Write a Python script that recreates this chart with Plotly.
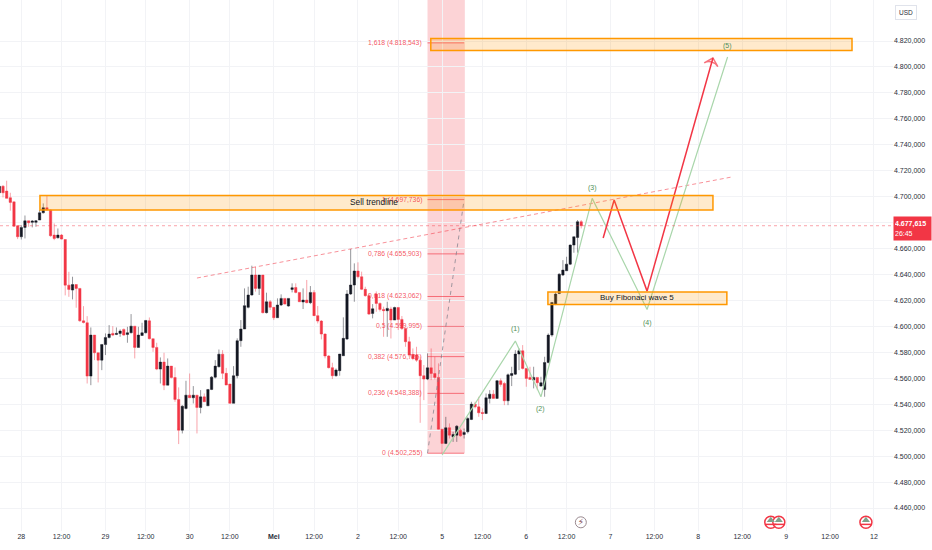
import plotly.graph_objects as go

FONT = "Liberation Sans, sans-serif"
RED = "#f23645"
ORANGE = "#ff9800"
GREEN_LINE = "#a9d6ab"
GREEN_TEXT = "#4f8f58"
PINK_TEXT = "rgba(242,54,69,0.85)"

# hourly bars, 0 = first bar of the 28th
bars = list(range(-6, 154))
opens = [4703, 4708, 4704.3, 4699.2, 4696, 4677.6, 4669.1, 4676.3, 4681.4, 4680.2, 4680.2, 4682, 4687.6, 4691.5, 4689.7, 4670.4, 4668.3, 4670.4,
         4667, 4631.8, 4628, 4632.3, 4629.3, 4604.3, 4602.8, 4561.7, 4593.3, 4579.7, 4574, 4586, 4591.5, 4594.6, 4593.8, 4594.6, 4597.7, 4593.8,
         4595.1, 4600.2, 4583.8, 4593, 4595.1, 4604.3, 4590.5, 4583.8, 4567.1, 4572.5, 4554.7, 4569.4, 4560.6, 4543.7, 4520, 4536.8, 4547, 4545,
         4547, 4537.5, 4545.7, 4538.8, 4551.4, 4560.9, 4568.9, 4578.6, 4563.8, 4555.6, 4540.7, 4562, 4589, 4598, 4614.7, 4624.2, 4639.6, 4629.3,
         4639.6, 4610.6, 4619, 4614.7, 4606.7, 4616.5, 4621.6, 4615.7, 4628.5, 4630, 4626.2, 4618.8, 4620.3, 4618.3, 4626.2, 4608.3, 4604.1, 4594.1,
         4577.2, 4568.2, 4562, 4565.9, 4577.4, 4590.3, 4625, 4631.9, 4642.7, 4638.3, 4628.6, 4623.7, 4610, 4624.9, 4617.7, 4613.1, 4612.1, 4613.4,
         4604.9, 4614.6, 4605.4, 4598.4, 4588.2, 4578.4, 4577.9, 4574, 4562, 4559.4, 4568.1, 4563.7, 4560.7, 4520.8, 4509.8, 4521.9, 4514.9, 4516.2,
         4520, 4516.7, 4518.8, 4528.3, 4540.1, 4538, 4533.7, 4532.9, 4544.5, 4547.8, 4544.5, 4558.1, 4556, 4542.7, 4562.2, 4563.2, 4578.7, 4581.2,
         4567.6, 4560.7, 4558.6, 4560.7, 4554, 4551.4, 4572.2, 4593.3, 4617.2, 4625.4, 4639.6, 4642.9, 4648, 4662.7, 4668.6, 4680.7]
highs = [4709, 4709, 4712.3, 4703, 4696, 4678, 4678, 4685.5, 4681.4, 4682, 4682, 4689.7, 4694.8, 4701.2, 4690.2, 4679.4, 4675.5, 4671.2,
         4667, 4642.1, 4638.3, 4632.3, 4629.3, 4615.6, 4607.9, 4599.2, 4593.3, 4579.7, 4586.1, 4594.6, 4601, 4600.2, 4599.2, 4597.7, 4598.4, 4599.7,
         4609.5, 4600.2, 4599.7, 4602.8, 4604.9, 4606.9, 4590.5, 4587.4, 4576.1, 4579.7, 4575.3, 4569.4, 4568.4, 4553, 4539.3, 4558.1, 4563.7, 4554,
         4547, 4550.9, 4548.3, 4551.4, 4561.7, 4574, 4582.2, 4581.7, 4568, 4555.6, 4569.4, 4590.8, 4604.9, 4629.3, 4630.6, 4646.8, 4646, 4639.6,
         4639.6, 4626, 4620.3, 4614.7, 4621.6, 4624.7, 4621.6, 4621.6, 4633.2, 4633.2, 4626.2, 4629.3, 4635.8, 4631.1, 4628, 4615.7, 4604.9, 4594.6,
         4577.9, 4572, 4567.6, 4578.7, 4607, 4628, 4659.6, 4648.6, 4649.4, 4642.2, 4630.6, 4625.5, 4617.2, 4627, 4618.5, 4615.2, 4619, 4615.2,
         4615.2, 4614.6, 4608, 4598.4, 4592, 4583, 4584.3, 4576.6, 4570.2, 4579.2, 4583, 4576.6, 4571.5, 4520.8, 4530.3, 4525.2, 4518.8, 4523.9,
         4521.3, 4521.3, 4530.3, 4541.9, 4541.9, 4545.8, 4536.8, 4548.3, 4550.9, 4550.9, 4558.6, 4559.9, 4557.3, 4563.7, 4568.9, 4581.7, 4583, 4585.6,
         4567.6, 4568.9, 4568.9, 4560.7, 4561.2, 4576.6, 4594.6, 4618.5, 4626.7, 4640.9, 4651.1, 4653.7, 4663.2, 4669.1, 4682, 4682]
lows = [4702.5, 4699.4, 4698.6, 4689.2, 4676.8, 4667.3, 4667, 4667.8, 4676.8, 4676.3, 4676.8, 4682, 4687, 4689.7, 4669.1, 4666.5, 4667.8, 4667,
        4623.9, 4622.8, 4620.8, 4614.4, 4603.6, 4602.3, 4556, 4554.7, 4574, 4556.8, 4566.3, 4577.9, 4590.7, 4592.5, 4593.3, 4592, 4592.8, 4587.4,
        4594.6, 4575.3, 4583.8, 4592.8, 4594.6, 4590, 4580.4, 4566.3, 4556, 4550.9, 4554.7, 4559.9, 4541.9, 4509.3, 4517.5, 4536, 4545, 4540.6,
        4517.5, 4533, 4541.9, 4538.8, 4550.9, 4559.9, 4568.4, 4559.4, 4554.8, 4540.7, 4540.7, 4560, 4584.3, 4598, 4613.9, 4623.7, 4626.8, 4624.2,
        4610, 4610, 4612.6, 4604.9, 4606.7, 4615.7, 4617, 4615.2, 4626.2, 4625.5, 4619, 4613.4, 4617.8, 4617.2, 4608, 4602.3, 4590, 4575.4,
        4567.6, 4559.4, 4561.2, 4562, 4577.2, 4589.5, 4624.2, 4619, 4637, 4628, 4622.9, 4608.8, 4606.2, 4611.3, 4611.5, 4592, 4592, 4590.7,
        4604.9, 4597.2, 4597.2, 4584.3, 4576.6, 4574, 4572.7, 4525.7, 4543.2, 4558.6, 4558.6, 4559.1, 4520.6, 4502.1, 4509.3, 4513.6, 4511, 4511,
        4514.9, 4513.6, 4517.5, 4527.8, 4536.8, 4530.3, 4527.8, 4532.4, 4540.6, 4544.5, 4544.5, 4553.5, 4539.3, 4539.3, 4554, 4562.5, 4566.3, 4566.8,
        4553.5, 4559.1, 4552.2, 4550.9, 4553.5, 4545.8, 4571.5, 4592, 4616.4, 4624.9, 4638.8, 4642.9, 4647.3, 4656.8, 4656.8, 4675.5]
closes = [4708, 4703, 4698.7, 4695.6, 4677.3, 4669.1, 4676.3, 4681.4, 4679.9, 4681.2, 4681.4, 4687.6, 4691.5, 4689.7, 4669.9, 4667.8, 4670.4, 4667.3,
          4631.8, 4628.5, 4632.3, 4629.3, 4604.3, 4603, 4561.7, 4593.3, 4579.7, 4574, 4586.1, 4591.5, 4594.1, 4593.3, 4594.6, 4596.4, 4593.3, 4595.1,
          4600.2, 4583.8, 4593.3, 4595.1, 4604.6, 4590.5, 4583.8, 4567.1, 4572.5, 4554.7, 4569.4, 4560.6, 4543.7, 4520, 4538.5, 4547, 4545, 4547,
          4537.5, 4545.7, 4541.9, 4551.4, 4560.9, 4569.4, 4578.6, 4563.8, 4554.8, 4540.7, 4562, 4589, 4598, 4616, 4624.2, 4639.6, 4629.3, 4639.6,
          4610.6, 4619, 4614.7, 4606.7, 4616.5, 4621.6, 4617.2, 4621.6, 4629.8, 4626.2, 4619, 4620.3, 4618.3, 4626.2, 4608.3, 4604.1, 4594.1, 4577.2,
          4568.2, 4562, 4566.4, 4578.7, 4590.8, 4625, 4631.9, 4642.7, 4638.3, 4628.6, 4623.7, 4609.5, 4613.6, 4617.7, 4613.1, 4612.1, 4613.9, 4604.9,
          4614.6, 4605.4, 4598.4, 4588.2, 4577.9, 4575.3, 4574, 4562, 4559.4, 4568.1, 4563.7, 4560.7, 4520.8, 4509.8, 4521.9, 4516.2, 4516.7, 4523.1,
          4515.7, 4518.3, 4529, 4540.1, 4538, 4533.4, 4532.9, 4545, 4547.8, 4544.5, 4558.1, 4555.3, 4542.7, 4562.7, 4563.7, 4578.7, 4581.2, 4567.6,
          4559.9, 4559.1, 4560.7, 4556.6, 4556.6, 4572.2, 4593.3, 4618.5, 4624.9, 4640.3, 4643.4, 4648, 4662.7, 4669.1, 4680.7, 4677.615]

x_tick_pos = [0, 11, 23, 34, 46, 57, 69, 80, 92, 103, 115, 126, 138, 149, 161, 173, 185, 197, 209, 221, 233]
x_tick_text = ["28", "12:00", "29", "12:00", "30", "12:00", "<b>Mei</b>", "12:00", "2", "12:00", "5", "12:00", "6", "12:00", "7", "12:00", "8",
               "12:00", "9", "12:00", "12"]
y_tick_vals = list(range(4460, 4821, 20))
y_tick_text = ["4.460,000", "4.480,000", "4.500,000", "4.520,000", "4.540,000", "4.560,000", "4.580,000", "4.600,000", "4.620,000", "4.640,000",
               "4.660,000", "4.680,000", "4.700,000", "4.720,000", "4.740,000", "4.760,000", "4.780,000", "4.800,000", "4.820,000"]

fib_prices = [4502.255, 4548.388, 4576.725, 4599.995, 4623.062, 4655.903, 4697.736, 4818.543]
fib_labels = ["0 (4.502,255)", "0,236 (4.548,388)", "0,382 (4.576,725)", "0,5 (4.599,995)", "0,618 (4.623,062)", "0,786 (4.655,903)",
              "1 (4.697,736)", "1,618 (4.818,543)"]
fib_base_x = [111, 121]
fib_base_y = [4502.255, 4697.736]

wave_x = [115, 135, 142, 156, 171, 193]
wave_y = [4501, 4588.7, 4545.7, 4698.7, 4613, 4807.7]
wave_labels = ["(1)", "(2)", "(3)", "(4)", "(5)"]
wave_label_y = [4598, 4536.5, 4707, 4603, 4816]

plan_x = [159, 162, 171, 189]
plan_y = [4668.1, 4697.4, 4627.2, 4806.9]

trend_x = [48, 194]
trend_y = [4637.3, 4715.1]

event_y = 4449
flag_events = [204.8, 207, 230.8]
bolt_events = [152.9]

fig = go.Figure()

fig.add_trace(go.Candlestick(
    x=bars, open=opens, high=highs, low=lows, close=closes,
    increasing=dict(line=dict(color="rgba(19,23,34,0.45)", width=1), fillcolor="#131722"),
    decreasing=dict(line=dict(color="rgba(242,54,69,0.45)", width=1), fillcolor=RED),
    whiskerwidth=0, hoverinfo="skip", showlegend=False,
))

# fib levels and base line
for p in fib_prices:
    fig.add_trace(go.Scatter(x=[111, 121], y=[p, p], mode="lines", line=dict(color="rgba(242,54,69,0.65)", width=1),
                             hoverinfo="skip", showlegend=False))
fig.add_trace(go.Scatter(x=fib_base_x, y=fib_base_y, mode="lines", line=dict(color="rgba(120,123,134,0.7)", width=1, dash="4px,4px"),
                         hoverinfo="skip", showlegend=False))

fig.add_trace(go.Scatter(x=trend_x, y=trend_y, mode="lines", line=dict(color="rgba(242,54,69,0.55)", width=1, dash="4px,3px"),
                         hoverinfo="skip", showlegend=False))
fig.add_trace(go.Scatter(x=wave_x, y=wave_y, mode="lines", line=dict(color=GREEN_LINE, width=1.2), hoverinfo="skip", showlegend=False))
fig.add_trace(go.Scatter(x=plan_x, y=plan_y, mode="lines", line=dict(color=RED, width=1.5), hoverinfo="skip", showlegend=False))
fig.add_trace(go.Scatter(x=plan_x[-2:], y=plan_y[-2:], mode="markers",
                         marker=dict(symbol="arrow-wide-open", angleref="previous", size=[0, 10], color=RED,
                                     line=dict(color=RED, width=1.5)),
                         hoverinfo="skip", showlegend=False))

# calendar events under the chart
fig.add_trace(go.Scatter(x=flag_events, y=[event_y] * len(flag_events), mode="markers",
                         marker=dict(size=12, color="white", line=dict(color=RED, width=1.5)), cliponaxis=False,
                         hoverinfo="skip", showlegend=False))
fig.add_trace(go.Scatter(x=flag_events, y=[event_y + 1.5] * len(flag_events), mode="markers",
                         marker=dict(size=7, symbol="triangle-up", color="#7fa08a"), cliponaxis=False,
                         hoverinfo="skip", showlegend=False))
fig.add_trace(go.Scatter(x=flag_events, y=[event_y - 1.6] * len(flag_events), mode="markers",
                         marker=dict(size=8, symbol="line-ew", line=dict(color=RED, width=1.5)), cliponaxis=False,
                         hoverinfo="skip", showlegend=False))
fig.add_trace(go.Scatter(x=bolt_events, y=[event_y] * len(bolt_events), mode="markers+text", text=["⚡"],
                         textposition="middle center", textfont=dict(family="DejaVu Sans", size=9, color="#7a3f4a"),
                         marker=dict(size=11, color="white", line=dict(color="#9a8a90", width=1)),
                         hoverinfo="skip", showlegend=False))

shapes = [
    dict(type="rect", xref="x", yref="y", x0=111, x1=121.2, y0=4502.255, y1=4851.6, fillcolor="rgba(242,54,69,0.22)", line_width=0, layer="below"),
    dict(type="line", xref="paper", yref="y", x0=0, x1=1, y0=4677.615, y1=4677.615, line=dict(color="rgba(242,54,69,0.45)", width=1, dash="dot")),
]
for x0, x1, y0, y1 in [(5.1, 189, 4689.7, 4700.9), (111.9, 227, 4812.7, 4822), (143.9, 192.8, 4616.8, 4626.5)]:
    shapes.append(dict(type="rect", xref="x", yref="y", x0=x0, x1=x1, y0=y0, y1=y1,
                       fillcolor="rgba(255,152,0,0.2)", line=dict(color=ORANGE, width=1.5)))

annotations = []
for p, label in zip(fib_prices, fib_labels):
    annotations.append(dict(x=110, y=p, xref="x", yref="y", text=label, showarrow=False, xanchor="right", yanchor="middle",
                            font=dict(size=6.8, color=PINK_TEXT, family=FONT)))
for x, y, label in zip(wave_x[1:], wave_label_y, wave_labels):
    annotations.append(dict(x=x, y=y, xref="x", yref="y", text=label, showarrow=False, font=dict(size=7, color=GREEN_TEXT, family=FONT)))
annotations.append(dict(x=96.4, y=4695.6, xref="x", yref="y", text="Sell trendline", showarrow=False,
                        font=dict(size=8.3, color="#131722", family=FONT)))
annotations.append(dict(x=168.2, y=4622, xref="x", yref="y", text="Buy Fibonaci wave 5", showarrow=False,
                        font=dict(size=8, color="#131722", family=FONT)))
annotations.append(dict(x=1.0, xref="paper", xanchor="left", xshift=0, y=4677.615 - 2.5, yref="y", yanchor="middle", showarrow=False,
                        text="<b>4.677,615</b><br>26:45", align="left", bgcolor=RED, width=35, height=21,
                        font=dict(size=7, color="white", family=FONT)))
annotations.append(dict(x=1.0, xref="paper", xanchor="left", xshift=2, y=1, yref="paper", yanchor="top", yshift=-5, showarrow=False,
                        text="USD", bgcolor="white", bordercolor="#e0e3eb", borderwidth=1, borderpad=3,
                        font=dict(size=6.5, color="#2a2e39", family=FONT)))

fig.update_layout(
    width=932, height=550,
    margin=dict(l=0, r=39, t=0, b=19),
    paper_bgcolor="white", plot_bgcolor="white",
    font=dict(family=FONT, size=7, color="#2a2e39"),
    showlegend=False,
    boxgap=0.08,
    shapes=shapes,
    annotations=annotations,
    xaxis=dict(range=[-5.82, 238.2], tickmode="array", tickvals=x_tick_pos, ticktext=x_tick_text, ticks="",
               showgrid=True, gridcolor="#f2f3f6", gridwidth=1, zeroline=False, rangeslider=dict(visible=False),
               showline=False, tickfont=dict(size=7)),
    yaxis=dict(range=[4442.3, 4851.6], side="right", tickmode="array", tickvals=y_tick_vals, ticktext=y_tick_text, ticks="",
               showgrid=True, gridcolor="#f2f3f6", gridwidth=1, zeroline=False, showline=False, tickfont=dict(size=7)),
)

fig.write_html("out.html", config=dict(displayModeBar=False), post_script="document.body.style.margin = '0';")
